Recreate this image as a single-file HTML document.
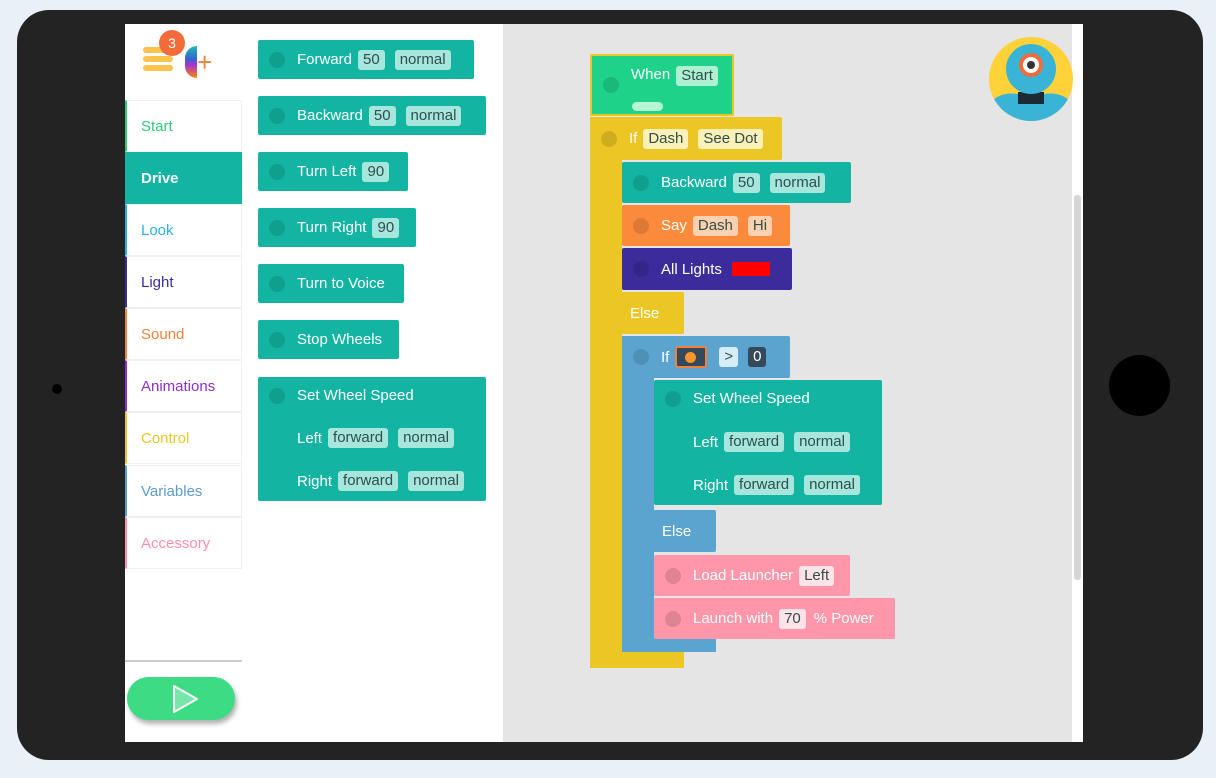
<!DOCTYPE html>
<html><head><style>
*{margin:0;padding:0;box-sizing:border-box}
body{width:1216px;height:778px;background:#eaf0f7;position:relative;overflow:hidden;font-family:"Liberation Sans",sans-serif}
.a{position:absolute}
.tab{left:17px;top:10px;width:1186px;height:750px;background:#232323;border-radius:32px}
.scr{left:125px;top:24px;width:958px;height:718px;background:#fff}
.canvas{left:503px;top:24px;width:569px;height:718px;background:#e5e5e5}
.cat{position:absolute;left:125px;width:117px;height:52px;border:1px solid #f0f0f0;border-left:2px solid #ccc;font-size:15px;line-height:52px;padding-left:14px}
.b{position:absolute;color:#fff;font-size:15px;display:flex;align-items:center;padding-left:39px;white-space:nowrap;border-radius:2px}
.b::before{content:"";position:absolute;left:11px;top:50%;margin-top:-8px;width:16px;height:16px;border-radius:50%;background:rgba(0,0,0,.12)}
.b.nd::before{display:none}
.t{background:#13b5a2}
.c{display:inline-block;background:#a6e6dc;color:#2f4f4a;border-radius:3px;padding:1px 5px;margin-left:6px;font-size:15px;line-height:18px}
.row{position:absolute;left:39px;display:flex;align-items:center;color:#fff;font-size:15px}
.y{background:#ebc624}
.o{background:#fb8a3c}.o .c{background:#fdd0b0}
.p{background:#3c2c9b}
.bl{background:#5ba4cf}
.pk{background:#ff96aa}.pk .c{background:#ffe3e8}
.yc{background:#fbf0b8}
</style></head><body>
<div class="a tab"></div>
<div class="a" style="left:1109px;top:355px;width:61px;height:61px;border-radius:50%;background:#000"></div>
<div class="a" style="left:52px;top:384px;width:10px;height:10px;border-radius:50%;background:#000"></div>
<div class="a scr"></div>
<div class="a canvas"></div>
<div class="a" style="left:1074px;top:195px;width:7px;height:385px;background:#d6d6d6;border-radius:3px"></div>

<!-- logo -->
<div class="a" style="left:143px;top:47px;width:30px;height:6px;background:#ffc24a;border-radius:3px"></div>
<div class="a" style="left:143px;top:56px;width:30px;height:6px;background:#ffc24a;border-radius:3px"></div>
<div class="a" style="left:143px;top:65px;width:30px;height:6px;background:#ffc24a;border-radius:3px"></div>
<div class="a" style="left:159px;top:30px;width:26px;height:26px;border-radius:50%;background:#f26b3a;color:#fff;font-size:14px;text-align:center;line-height:26px">3</div>
<div class="a" style="left:185px;top:46px;width:12px;height:32px;border-radius:12px 0 0 12px;background:linear-gradient(#2bb,#36c 40%,#a3c 60%,#f80)"></div>
<div class="a" style="left:197px;top:50px;color:#f2803a;font-size:26px;line-height:24px">+</div>

<!-- categories -->
<div class="cat" style="top:100px;color:#2ecc7a;border-left-color:#2ecc7a">Start</div>
<div class="cat" style="top:152px;color:#fff;background:#13b5a2;border-color:#13b5a2;font-weight:bold">Drive</div>
<div class="cat" style="top:204px;color:#2ab0e8;border-left-color:#2ab0e8">Look</div>
<div class="cat" style="top:256px;color:#3c2c9b;border-left-color:#3c2c9b">Light</div>
<div class="cat" style="top:308px;color:#f5823a;border-left-color:#f5823a">Sound</div>
<div class="cat" style="top:360px;color:#8a2fd0;border-left-color:#8a2fd0">Animations</div>
<div class="cat" style="top:412px;color:#ebc624;border-left-color:#ebc624">Control</div>
<div class="cat" style="top:465px;color:#5a9ccc;border-left-color:#5a9ccc">Variables</div>
<div class="cat" style="top:517px;color:#ff8fa8;border-left-color:#ff8fa8">Accessory</div>
<div class="a" style="left:125px;top:660px;width:117px;height:2px;background:#ccc"></div>
<div class="a" style="left:127px;top:677px;width:108px;height:43px;border-radius:22px;background:#3ddc84;box-shadow:2px 4px 5px rgba(0,0,0,.3)"></div>
<svg class="a" style="left:170px;top:683px" width="30" height="32"><path d="M4 3 L27 16 L4 29 Z" fill="#fff" stroke="#fff" stroke-width="2" stroke-linejoin="round" fill-opacity=".3"/></svg>

<!-- palette -->
<div class="b t" style="left:258px;top:40px;width:216px;height:39px">Forward<span class="c">50</span><span class="c" style="margin-left:10px">normal</span></div>
<div class="b t" style="left:258px;top:96px;width:228px;height:39px">Backward<span class="c">50</span><span class="c" style="margin-left:10px">normal</span></div>
<div class="b t" style="left:258px;top:152px;width:150px;height:39px">Turn Left<span class="c">90</span></div>
<div class="b t" style="left:258px;top:208px;width:158px;height:39px">Turn Right<span class="c">90</span></div>
<div class="b t" style="left:258px;top:264px;width:146px;height:39px">Turn to Voice</div>
<div class="b t" style="left:258px;top:320px;width:141px;height:39px">Stop Wheels</div>
<div class="b t nd" style="left:258px;top:377px;width:228px;height:124px;align-items:flex-start;padding-top:10px">Set Wheel Speed
<div class="a" style="left:11px;top:11px;width:16px;height:16px;border-radius:50%;background:rgba(0,0,0,.12)"></div>
<div class="row" style="top:51px">Left<span class="c">forward</span><span class="c" style="margin-left:10px">normal</span></div>
<div class="row" style="top:94px">Right<span class="c">forward</span><span class="c" style="margin-left:10px">normal</span></div></div>

<!-- program -->
<div class="b" style="left:590px;top:54px;width:144px;height:62px;background:#1ed28a;border:2px solid #ebc624;align-items:flex-start;padding-top:10px">When<span class="c" style="background:#aef0d2">Start</span>
<div class="a" style="left:40px;top:46px;width:31px;height:9px;border-radius:5px;background:#b6f5d6"></div></div>
<div class="a y" style="left:590px;top:117px;width:32px;height:551px"></div>
<div class="b y" style="left:590px;top:117px;width:192px;height:43px">If<span class="c yc">Dash</span><span class="c yc" style="margin-left:10px">See Dot</span></div>
<div class="b y nd" style="left:590px;top:292px;width:94px;height:42px;padding-left:40px">Else</div>
<div class="a y" style="left:590px;top:652px;width:94px;height:16px"></div>

<div class="b t" style="left:622px;top:162px;width:229px;height:41px">Backward<span class="c">50</span><span class="c" style="margin-left:10px">normal</span></div>
<div class="b o" style="left:622px;top:205px;width:168px;height:41px">Say<span class="c">Dash</span><span class="c" style="margin-left:10px">Hi</span></div>
<div class="b p" style="left:622px;top:248px;width:170px;height:42px">All Lights<span style="display:inline-block;width:38px;height:14px;background:#f00;margin-left:10px"></span></div>

<div class="a bl" style="left:622px;top:336px;width:32px;height:316px"></div>
<div class="b bl" style="left:622px;top:336px;width:168px;height:42px">If<span style="display:inline-block;width:32px;height:22px;background:#35495a;border:2px solid #f2803a;border-radius:3px;margin-left:6px;position:relative"><span style="position:absolute;left:8px;top:4px;width:11px;height:11px;border-radius:50%;background:#f8952c"></span></span><span class="c" style="background:#d6ecf6;margin-left:12px">&gt;</span><span class="c" style="background:#35495a;color:#fff;margin-left:10px">0</span></div>
<div class="b bl nd" style="left:622px;top:510px;width:94px;height:42px;padding-left:40px">Else</div>
<div class="a bl" style="left:622px;top:630px;width:94px;height:22px"></div>

<div class="b t nd" style="left:654px;top:380px;width:228px;height:125px;align-items:flex-start;padding-top:10px">Set Wheel Speed
<div class="a" style="left:11px;top:11px;width:16px;height:16px;border-radius:50%;background:rgba(0,0,0,.12)"></div>
<div class="row" style="top:52px">Left<span class="c">forward</span><span class="c" style="margin-left:10px">normal</span></div>
<div class="row" style="top:95px">Right<span class="c">forward</span><span class="c" style="margin-left:10px">normal</span></div></div>

<div class="b pk" style="left:654px;top:555px;width:196px;height:41px">Load Launcher<span class="c">Left</span></div>
<div class="b pk" style="left:654px;top:598px;width:241px;height:41px">Launch with<span class="c">70</span><span style="margin-left:8px">% Power</span></div>

<!-- robot -->
<svg class="a" style="left:988px;top:36px" width="86" height="86" viewBox="0 0 86 86">
<defs><clipPath id="cc"><circle cx="43" cy="43" r="42"/></clipPath></defs>
<circle cx="43" cy="43" r="42" fill="#ffd23a"/>
<g clip-path="url(#cc)">
<path d="M0 70 Q10 55 30 58 L56 58 Q76 55 86 70 L86 86 L0 86Z" fill="#3ab4d6"/>
<rect x="30" y="56" width="26" height="12" fill="#1d2a33"/>
<circle cx="43" cy="33" r="25" fill="#3ab4d6"/>
<circle cx="43" cy="29" r="12" fill="#f26b3a"/>
<circle cx="43" cy="29" r="8" fill="#fff"/>
<circle cx="43" cy="29" r="4" fill="#333"/>
</g></svg>
</body></html>
